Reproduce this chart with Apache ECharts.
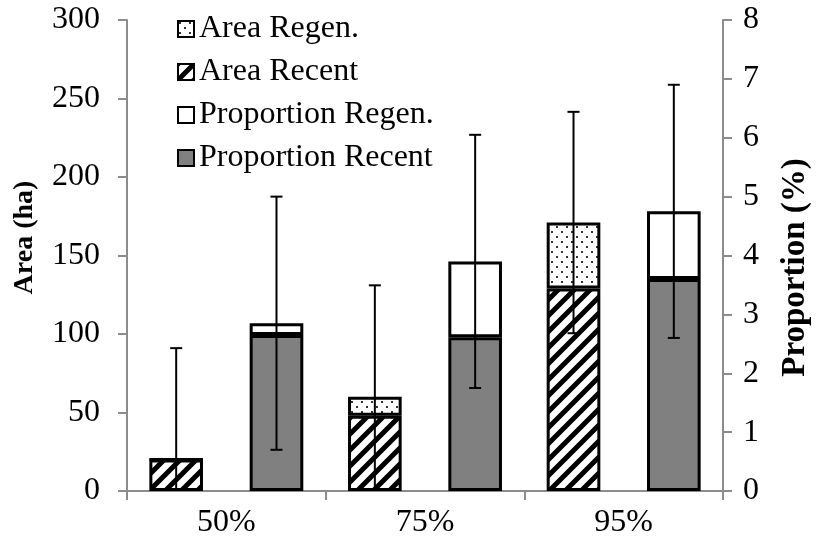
<!DOCTYPE html>
<html>
<head>
<meta charset="utf-8">
<script src="https://cdn.jsdelivr.net/npm/echarts@6/dist/echarts.min.js"></script>
<style>
  html, body { margin: 0; padding: 0; background: #fff; }
  #chart { width: 820px; height: 546px; }
</style>
</head>
<body>
<div id="chart"></div>
<script>
// Threshold categories
var categories = ['50%', '75%', '95%'];

// Area (ha), stacked: recent at bottom, regeneration on top
var areaRecent = [20, 48, 129];
var areaRegen = [0, 12, 42];
var areaErr = [71, 71, 70.5];

// Proportion (%), stacked: recent at bottom, regeneration on top
var propRecent = [2.65, 2.61, 3.60];
var propRegen = [0.20, 1.29, 1.15];
var propErr = [2.15, 2.15, 2.15];

// Axis ticks
var areaTicks = { min: 0, max: 300, interval: 50 };
var propTicks = { min: 0, max: 8, interval: 1 };

var FONT = '"Liberation Serif", "Times New Roman", serif';
var BAR_W = 0.27;   // bar width as a share of the category band
var BAR_GAP = 0.87; // gap between the two stacks, relative to bar width

function makePattern(size, draw) {
  var c = document.createElement('canvas');
  c.width = size; c.height = size;
  var ctx = c.getContext('2d');
  ctx.fillStyle = '#fff';
  ctx.fillRect(0, 0, size, size);
  draw(ctx, size);
  return { image: c, repeat: 'repeat' };
}

// diagonal "/" hatch
var hatch = makePattern(16, function (ctx, s) {
  ctx.strokeStyle = '#000';
  ctx.lineWidth = 5;
  ctx.beginPath();
  ctx.moveTo(-s, s * 2); ctx.lineTo(s * 2, -s);
  ctx.moveTo(-s * 2, s * 2); ctx.lineTo(s, -s);
  ctx.moveTo(0, s * 2); ctx.lineTo(s * 3, -s);
  ctx.stroke();
});

// staggered dot pattern
var dots = makePattern(10, function (ctx, s) {
  ctx.fillStyle = '#333';
  ctx.fillRect(1, 1, 2, 2);
  ctx.fillRect(6, 6, 2, 2);
});

function sum(a, b) { return a.map(function (v, i) { return v + b[i]; }); }
var areaTotal = sum(areaRecent, areaRegen);
var propTotal = sum(propRecent, propRegen);

function errData(center, err) {
  return center.map(function (v, i) { return [i, v, err[i]]; });
}

// Error bar drawn on top of one of the two stacks (side = -1 left, +1 right)
function errRenderer(side) {
  return function (params, api) {
    var band = api.size([1, 0])[0];
    var bw = band * BAR_W;
    var dx = side * bw * (1 + BAR_GAP) / 2;
    var i = api.value(0), c = api.value(1), e = api.value(2);
    var top = api.coord([i, c + e]);
    var bot = api.coord([i, Math.max(c - e, 0)]);
    var x = top[0] + dx;
    var cap = 6;
    var style = { stroke: '#000', lineWidth: 2 };
    var children = [
      { type: 'line', shape: { x1: x, y1: top[1], x2: x, y2: bot[1] }, style: style },
      { type: 'line', shape: { x1: x - cap, y1: top[1], x2: x + cap, y2: top[1] }, style: style }
    ];
    if (c - e > 0) {
      children.push({ type: 'line', shape: { x1: x - cap, y1: bot[1], x2: x + cap, y2: bot[1] }, style: style });
    }
    return { type: 'group', children: children };
  };
}

var border = { borderColor: '#000', borderWidth: 3 };
function barStyle(color) {
  return Object.assign({ color: color }, border);
}

var chart = echarts.init(document.getElementById('chart'), null, { renderer: 'canvas' });
var axisLine = { show: true, lineStyle: { color: '#8c8c8c', width: 2 } };
var axisTick = { show: true, length: 9, lineStyle: { color: '#8c8c8c', width: 2 } };

chart.setOption({
  animation: false,
  backgroundColor: '#fff',
  textStyle: { fontFamily: FONT },
  grid: { left: 127, right: 90, top: 20, bottom: 55 },
  legend: {
    orient: 'vertical',
    left: 172,
    top: 8,
    itemWidth: 16,
    itemHeight: 16,
    itemGap: 11,
    icon: 'rect',
    data: ['Area Regen.', 'Area Recent', 'Proportion Regen.', 'Proportion Recent'],
    textStyle: { fontFamily: FONT, fontSize: 32, color: '#000' }
  },
  xAxis: {
    type: 'category',
    data: categories,
    axisLine: axisLine,
    axisTick: axisTick,
    axisLabel: { fontFamily: FONT, fontSize: 32, color: '#000', margin: 16 }
  },
  yAxis: [
    {
      type: 'value',
      min: areaTicks.min, max: areaTicks.max, interval: areaTicks.interval,
      name: 'Area (ha)',
      nameLocation: 'middle',
      nameRotate: 90,
      nameGap: 88,
      nameTextStyle: { fontFamily: FONT, fontSize: 28, fontWeight: 'bold', color: '#000', padding: [0, 0, 0, 36] },
      axisLine: axisLine,
      axisTick: axisTick,
      splitLine: { show: false },
      axisLabel: { fontFamily: FONT, fontSize: 32, color: '#000', margin: 27 }
    },
    {
      type: 'value',
      position: 'right',
      min: propTicks.min, max: propTicks.max, interval: propTicks.interval,
      name: 'Proportion (%)',
      nameLocation: 'middle',
      nameRotate: 90,
      nameGap: 56,
      nameTextStyle: { fontFamily: FONT, fontSize: 33, fontWeight: 'bold', color: '#000', padding: [0, 24, 0, 0] },
      axisLine: axisLine,
      axisTick: axisTick,
      splitLine: { show: false },
      axisLabel: { fontFamily: FONT, fontSize: 32, color: '#000', margin: 20 }
    }
  ],
  series: [
    {
      name: 'Area Recent', type: 'bar', stack: 'area', yAxisIndex: 0,
      barWidth: (BAR_W * 100) + '%', barGap: (BAR_GAP * 100) + '%',
      itemStyle: barStyle(hatch), data: areaRecent
    },
    {
      name: 'Area Regen.', type: 'bar', stack: 'area', yAxisIndex: 0,
      barWidth: (BAR_W * 100) + '%', barGap: (BAR_GAP * 100) + '%',
      itemStyle: barStyle(dots), data: areaRegen
    },
    {
      name: 'Proportion Recent', type: 'bar', stack: 'prop', yAxisIndex: 1,
      barWidth: (BAR_W * 100) + '%', barGap: (BAR_GAP * 100) + '%',
      itemStyle: barStyle('#808080'), data: propRecent
    },
    {
      name: 'Proportion Regen.', type: 'bar', stack: 'prop', yAxisIndex: 1,
      barWidth: (BAR_W * 100) + '%', barGap: (BAR_GAP * 100) + '%',
      itemStyle: barStyle('#ffffff'), data: propRegen
    },
    {
      name: 'area-error', type: 'custom', yAxisIndex: 0, z: 10,
      renderItem: errRenderer(-1), data: errData(areaTotal, areaErr), silent: true
    },
    {
      name: 'prop-error', type: 'custom', yAxisIndex: 1, z: 10,
      renderItem: errRenderer(1), data: errData(propTotal, propErr), silent: true
    }
  ]
});
</script>
</body>
</html>
